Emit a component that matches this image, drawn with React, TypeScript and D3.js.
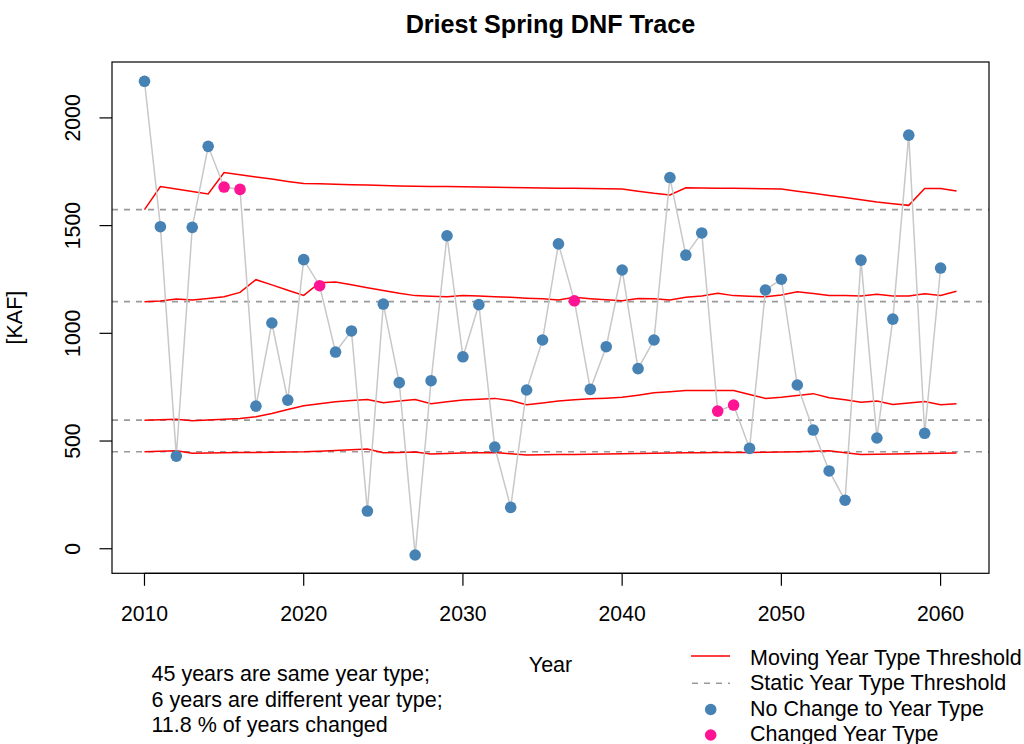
import React from "react";
import * as d3 from "d3";

const years = [
  2010, 2011, 2012, 2013, 2014, 2015, 2016, 2017, 2018, 2019,
  2020, 2021, 2022, 2023, 2024, 2025, 2026, 2027, 2028, 2029,
  2030, 2031, 2032, 2033, 2034, 2035, 2036, 2037, 2038, 2039,
  2040, 2041, 2042, 2043, 2044, 2045, 2046, 2047, 2048, 2049,
  2050, 2051, 2052, 2053, 2054, 2055, 2056, 2057, 2058, 2059,
  2060,
];

const thresholdYears = [...years, 2061];

const dnf = [
  2170, 1495, 430, 1492, 1868, 1679, 1668, 662, 1048, 690,
  1342, 1221, 913, 1011, 175, 1136, 771, -29, 780, 1453,
  891, 1133, 472, 192, 737, 969, 1415, 1151, 740, 938,
  1294, 836, 969, 1723, 1363, 1466, 639, 667, 466, 1201,
  1251, 760, 551, 361, 225, 1340, 514, 1066, 1920, 536,
  1303,
];

const changedYears = [2015, 2016, 2021, 2037, 2046, 2047];

const movingT1 = [
  1574, 1681, 1670, 1658, 1647, 1746, 1736, 1726, 1716, 1705,
  1695, 1694, 1692, 1690, 1688, 1686, 1684, 1683, 1682, 1681,
  1680, 1679, 1678, 1677, 1676, 1675, 1674, 1673, 1672, 1671,
  1670, 1660, 1650, 1642, 1676, 1675, 1674, 1673, 1672, 1671,
  1670, 1660, 1650, 1640, 1630, 1620, 1610, 1602, 1594, 1672,
  1672, 1661,
];

const movingT2 = [
  1147, 1150, 1159, 1155, 1162, 1170, 1190, 1249, 1225, 1200,
  1176, 1235, 1238, 1225, 1212, 1199, 1186, 1175, 1172, 1170,
  1176, 1173, 1170, 1167, 1163, 1160, 1155, 1167, 1161, 1156,
  1151, 1162, 1160, 1155, 1167, 1173, 1186, 1175, 1172, 1170,
  1178, 1193, 1185, 1176, 1175, 1173, 1181, 1173, 1173, 1184,
  1176, 1195,
];

const movingT3 = [
  597, 599, 601, 594, 598, 601, 605, 613, 628, 646,
  664, 673, 682, 688, 693, 678, 686, 693, 673, 682,
  690, 694, 698, 688, 668, 677, 686, 692, 696, 699,
  703, 713, 724, 729, 735, 735, 735, 735, 716, 698,
  703, 711, 720, 701, 692, 680, 686, 670, 677, 683,
  669, 673,
];

const movingT4 = [
  450, 453, 455, 443, 445, 446, 447, 447, 448, 449,
  450, 453, 456, 460, 463, 446, 447, 449, 440, 442,
  444, 446, 447, 441, 435, 436, 437, 438, 439, 440,
  441, 442, 443, 444, 446, 446, 447, 447, 447, 448,
  449, 450, 452, 455, 446, 438, 439, 440, 441, 442,
  443, 444,
];

const staticThresholds = [1574, 1147, 597, 450];

const xTicks = [2010, 2020, 2030, 2040, 2050, 2060];
const yTicks = [0, 500, 1000, 1500, 2000];

const titleText = "Driest Spring DNF Trace";
const xLabel = "Year";
const yLabel = "[KAF]";
const summaryLines = [
  "45 years are same year type;",
  "6 years are different year type;",
  "11.8 % of years changed",
];
const legendLabels = [
  "Moving Year Type Threshold",
  "Static Year Type Threshold",
  "No Change to Year Type",
  "Changed Year Type",
];

const FONT = "'Liberation Sans', Arial, Helvetica, sans-serif";
const BLUE = "#4682B4";
const PINK = "#FF1493";

export default function App() {
  const left = 112, right = 989, top = 62, bottom = 573.3;
  const x = d3.scaleLinear().domain([2007.96, 2063.04]).range([left, right]);
  const y = d3.scaleLinear().domain([-114, 2259.5]).range([bottom, top]);

  const line = d3
    .line<[number, number]>()
    .x((d) => x(d[0]))
    .y((d) => y(d[1]));

  const movingSeries = [movingT1, movingT2, movingT3, movingT4];
  const tracePath = line(years.map((yr, i) => [yr, dnf[i]] as [number, number])) || "";

  const fs = 21.2;
  const fsText = 21.5;

  return (
    <svg
      width={1024}
      height={744}
      style={{ position: "absolute", left: 0, top: 0, background: "#fff" }}
      fontFamily={FONT}
    >
      <rect x={0} y={0} width={1024} height={744} fill="#fff" />
      <text x={550.5} y={33} textAnchor="middle" fontWeight="bold" fontSize={25.2}>
        {titleText}
      </text>

      {staticThresholds.map((v, i) => (
        <line
          key={"s" + i}
          x1={left}
          x2={right}
          y1={y(v)}
          y2={y(v)}
          stroke="#999"
          strokeWidth={1.6}
          strokeDasharray="6,6"
        />
      ))}

      {movingSeries.map((s, i) => (
        <path
          key={"m" + i}
          d={line(thresholdYears.map((yr, j) => [yr, s[j]] as [number, number])) || ""}
          fill="none"
          stroke="#FF0000"
          strokeWidth={1.5}
        />
      ))}

      <path d={tracePath} fill="none" stroke="#C8C8C8" strokeWidth={1.5} />

      {years.map((yr, i) => (
        <circle
          key={"p" + yr}
          cx={x(yr)}
          cy={y(dnf[i])}
          r={5.8}
          fill={changedYears.includes(yr) ? PINK : BLUE}
        />
      ))}

      <rect x={left} y={top} width={right - left} height={bottom - top} fill="none" stroke="#000" strokeWidth={1.2} />

      <line x1={x(xTicks[0])} x2={x(xTicks[xTicks.length - 1])} y1={bottom} y2={bottom} stroke="#000" strokeWidth={1.2} />
      {xTicks.map((t) => (
        <g key={"xt" + t}>
          <line x1={x(t)} x2={x(t)} y1={bottom} y2={bottom + 12.5} stroke="#000" strokeWidth={1.2} />
          <text x={x(t)} y={620.7} textAnchor="middle" fontSize={fs}>
            {t}
          </text>
        </g>
      ))}

      {yTicks.map((t) => (
        <g key={"yt" + t}>
          <line x1={left - 12.5} x2={left} y1={y(t)} y2={y(t)} stroke="#000" strokeWidth={1.2} />
          <text
            transform={`translate(80,${y(t)}) rotate(-90)`}
            textAnchor="middle"
            fontSize={fs}
          >
            {t}
          </text>
        </g>
      ))}

      <text x={550.5} y={672} textAnchor="middle" fontSize={fsText}>
        {xLabel}
      </text>
      <text transform={`translate(22,${(top + bottom) / 2}) rotate(-90)`} textAnchor="middle" fontSize={fsText}>
        {yLabel}
      </text>

      {summaryLines.map((s, i) => (
        <text key={"sl" + i} x={151.5} y={681 + i * 25.5} fontSize={fsText}>
          {s}
        </text>
      ))}

      <line x1={691} x2={730} y1={656} y2={656} stroke="#FF0000" strokeWidth={1.5} />
      <line x1={692} x2={730} y1={683.3} y2={683.3} stroke="#999" strokeWidth={1.6} strokeDasharray="6,6" />
      <circle cx={710.7} cy={709.5} r={5.8} fill={BLUE} />
      <circle cx={710.7} cy={735} r={5.8} fill={PINK} />
      {legendLabels.map((s, i) => (
        <text key={"lg" + i} x={750} y={665 + i * 25.4} fontSize={fsText}>
          {s}
        </text>
      ))}
    </svg>
  );
}
